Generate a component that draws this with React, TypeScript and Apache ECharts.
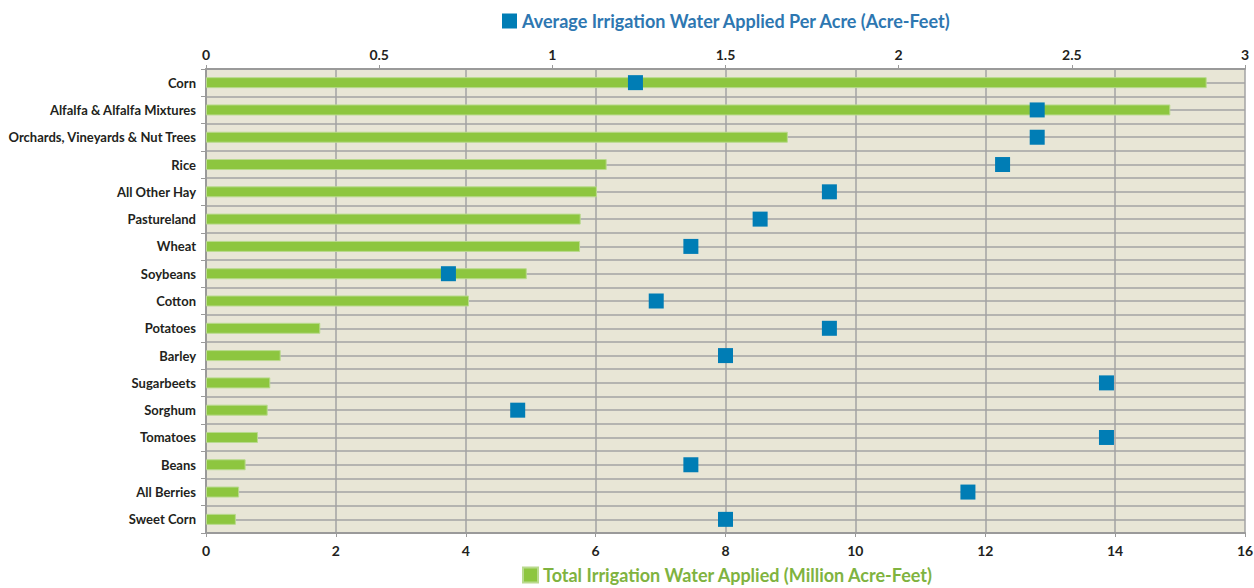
import React, { useEffect, useRef } from "react";
import * as echarts from "echarts";

const categories = [
  "Corn",
  "Alfalfa & Alfalfa Mixtures",
  "Orchards, Vineyards & Nut Trees",
  "Rice",
  "All Other Hay",
  "Pastureland",
  "Wheat",
  "Soybeans",
  "Cotton",
  "Potatoes",
  "Barley",
  "Sugarbeets",
  "Sorghum",
  "Tomatoes",
  "Beans",
  "All Berries",
  "Sweet Corn",
];

// Total Irrigation Water Applied (Million Acre-Feet)
const totalWater = [15.41, 14.85, 8.96, 6.17, 6.02, 5.77, 5.76, 4.94, 4.05, 1.76, 1.15, 0.99, 0.95, 0.8, 0.61, 0.51, 0.46];

// Average Irrigation Water Applied Per Acre (Acre-Feet)
const perAcre = [1.24, 2.4, 2.4, 2.3, 1.8, 1.6, 1.4, 0.7, 1.3, 1.8, 1.5, 2.6, 0.9, 2.6, 1.4, 2.2, 1.5];

const bottomTicks = { min: 0, max: 16, interval: 2 };
const topTicks = { min: 0, max: 3, interval: 0.5 };

const FONT = "Lato, 'Roboto', sans-serif";

export default function App() {
  const ref = useRef<HTMLDivElement>(null);
  useEffect(() => {
    if (!ref.current) return;
    const chart = echarts.init(ref.current, undefined, { renderer: "svg" });
    const gridColor = "#A3A3A3";
    chart.setOption({
      animation: false,
      textStyle: { fontFamily: FONT },
      legend: [
        {
          data: ["Average Irrigation Water Applied Per Acre (Acre-Feet)"],
          top: 12,
          left: 502,
          icon: "rect",
          itemWidth: 15,
          itemHeight: 15,
          itemGap: 10,
          padding: 0,
          textStyle: { color: "#2E77B1", fontSize: 18, lineHeight: 18, fontWeight: "bold", fontFamily: FONT },
        },
        {
          data: ["Total Irrigation Water Applied (Million Acre-Feet)"],
          top: 566,
          left: 522,
          icon: "rect",
          itemWidth: 15,
          itemHeight: 15,
          itemGap: 10,
          padding: 0,
          textStyle: { color: "#7FB33F", fontSize: 18, lineHeight: 18, fontWeight: "bold", fontFamily: FONT },
        },
      ],
      grid: {
        left: 206,
        right: 9,
        top: 69,
        bottom: 55,
        containLabel: false,
        outerBoundsMode: "none",
        show: true,
        backgroundColor: "#E8E6D6",
        borderWidth: 0,
      },
      xAxis: [
        {
          type: "value",
          position: "bottom",
          min: bottomTicks.min,
          max: bottomTicks.max,
          interval: bottomTicks.interval,
          axisLine: { show: true, lineStyle: { color: "#9A9A9A", width: 2 } },
          axisTick: { show: true, length: 4, lineStyle: { color: "#9A9A9A" } },
          axisLabel: { color: "#231F20", fontSize: 14, fontWeight: "bold", margin: 10, fontFamily: FONT },
          splitLine: { show: true, lineStyle: { color: gridColor, width: 1.5 } },
        },
        {
          type: "value",
          position: "top",
          min: topTicks.min,
          max: topTicks.max,
          interval: topTicks.interval,
          axisLine: { show: true, lineStyle: { color: "#9A9A9A", width: 2 } },
          axisTick: { show: true, length: 4, lineStyle: { color: "#9A9A9A" } },
          axisLabel: { color: "#231F20", fontSize: 14, fontWeight: "bold", margin: 8, fontFamily: FONT },
          splitLine: { show: false },
        },
      ],
      yAxis: [
        {
          type: "category",
          data: categories,
          inverse: true,
          axisLine: { show: true, lineStyle: { color: "#9A9A9A", width: 2 } },
          axisTick: { show: true, length: 5, lineStyle: { color: "#9A9A9A" } },
          axisLabel: { color: "#231F20", fontSize: 13, fontWeight: "bold", margin: 10, fontFamily: FONT },
          splitLine: { show: false },
        },
        {
          type: "value",
          position: "right",
          min: 0,
          max: categories.length,
          interval: 0.5,
          axisLine: { show: false },
          axisTick: { show: false },
          axisLabel: { show: false },
          splitLine: { show: true, lineStyle: { color: gridColor, width: 1.5 } },
        },
      ],
      series: [
        {
          name: "Total Irrigation Water Applied (Million Acre-Feet)",
          type: "bar",
          xAxisIndex: 0,
          yAxisIndex: 0,
          data: totalWater,
          barWidth: 11,
          itemStyle: { color: "#8DC63F", borderColor: "#B9DA8E", borderWidth: 1 },
          z: 3,
        },
        {
          name: "Average Irrigation Water Applied Per Acre (Acre-Feet)",
          type: "scatter",
          xAxisIndex: 1,
          yAxisIndex: 0,
          symbol: "rect",
          symbolSize: 15,
          data: perAcre.map((v, i) => [v, categories[i]]),
          itemStyle: { color: "#007DB5", opacity: 1 },
          z: 5,
        },
      ],
    });
    return () => chart.dispose();
  }, []);
  return (
    <div
      ref={ref}
      style={{ position: "fixed", left: 0, top: 0, width: 1254, height: 588, background: "#ffffff" }}
    />
  );
}
